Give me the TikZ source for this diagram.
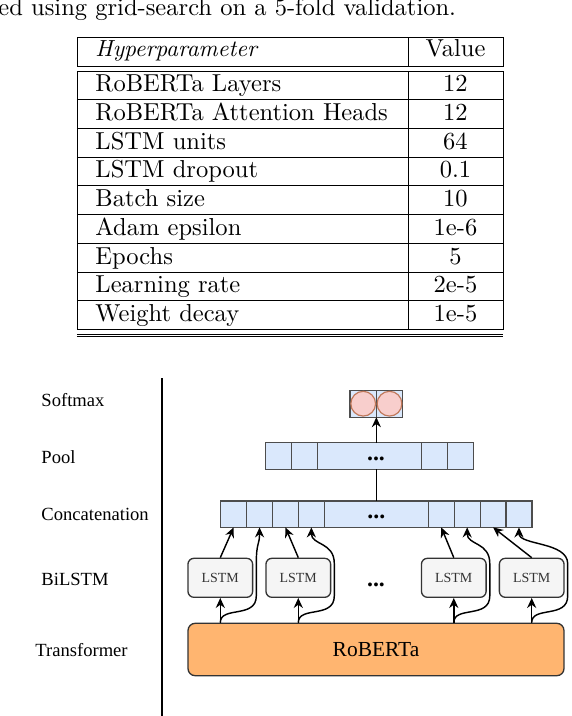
\documentclass[tikz,border=0pt]{standalone}
\usepackage{fontspec}
\newfontfamily\drawfont{Liberation Serif}
\usetikzlibrary{positioning,arrows.meta,calc}
\definecolor{cellblue}{HTML}{DAE8FC}
\definecolor{cellline}{HTML}{4D4D4D}
\definecolor{smfill}{HTML}{F8CECC}
\definecolor{smline}{HTML}{C0785A}
\definecolor{lstmfill}{HTML}{F5F5F5}
\definecolor{lstmline}{HTML}{333333}
\definecolor{robfill}{HTML}{FFB570}
\tikzset{
  vcell/.style={draw=cellline, fill=cellblue, line width=0.5pt, minimum width=10.88pt, minimum height=11.13pt, inner sep=0pt, outer sep=0pt},
  widecell/.style={vcell, minimum width=43.68pt},
  smcell/.style={vcell, minimum width=11.05pt, minimum height=11.34pt},
  smcirc/.style={circle, draw=smline, fill=smfill, line width=0.5pt, minimum size=10.4pt, inner sep=0pt},
  lstmbox/.style={draw=lstmline, fill=lstmfill, rounded corners=2.5pt, line width=0.55pt, minimum width=27.17pt, minimum height=16.38pt, inner sep=0pt, text=lstmline, font=\drawfont\fontsize{5.85}{7}\selectfont},
  robbox/.style={draw=lstmline, fill=robfill, rounded corners=3pt, line width=0.55pt, minimum width=157.9pt, minimum height=22pt, font=\drawfont\fontsize{9}{11}\selectfont},
  lbl/.style={font=\drawfont\fontsize{7.8}{9}\selectfont, inner sep=0pt, anchor=west},
  gap/.style={font=\drawfont\bfseries\fontsize{10}{12}\selectfont, inner sep=0pt, anchor=base},
  arr/.style={line width=0.6pt, -{Stealth[length=4.2pt,width=3.8pt]}},
  tabtext/.style={inner sep=0pt, anchor=base west, font=\fontsize{10.3}{12}\selectfont},
  tabval/.style={inner sep=0pt, anchor=base, font=\fontsize{10.3}{12}\selectfont},
}
\begin{document}
\begin{tikzpicture}[x=0.42pt,y=-0.42pt]
\useasboundingbox (0,0) rectangle (572,716);
% caption line, cut at the top
\node[tabtext] (caption) at (-2,15) {ed using grid-search on a 5-fold validation.};
% hyperparameter table
\draw (77,37) rectangle (503,66);
\draw (408,37) -- (408,66);
\node[tabtext, font=\fontsize{9.8}{12}\selectfont] (hphead) at (95,56.7) {\textit{Hyperparameter}};
\node[tabval] (valhead) at (455.5,56.7) {Value};
\draw (77,71) rectangle (503,329.5);
\draw (408,71) -- (408,329.5);
\foreach \k in {1,...,8}
  \draw (77,{71+\k*28.72}) -- (503,{71+\k*28.72});
\foreach \hp/\val [count=\k] in {RoBERTa Layers/12, RoBERTa Attention Heads/12, LSTM units/64, LSTM dropout/0.1, Batch size/10, Adam epsilon/1e-6, Epochs/5, Learning rate/2e-5, Weight decay/1e-5} {
  \node[tabtext] (hp\k) at (95,{62.98+\k*28.72}) {\hp};
  \node[tabval] (val\k) at (455.5,{62.98+\k*28.72}) {\val};
}
\draw (77,334.3) -- (503,334.3);
\draw (77,336.8) -- (503,336.8);

% layer names
\draw[line width=0.55pt] (162,378) -- (162,716);
\node[lbl] (lsoft) at (41,400.5) {Softmax};
\node[lbl] (lpool) at (41,457) {Pool};
\node[lbl] (lconc) at (41,514) {Concatenation};
\node[lbl] (lbil) at (41,579) {BiLSTM};
\node[lbl] (ltrans) at (35,650) {Transformer};

% softmax
\node[smcell] (s1) at (363.2,403.7) {};
\node[smcell, right=0pt of s1] (s2) {};
\node[smcirc] (o1) at (s1) {};
\node[smcirc] (o2) at (s2) {};

% pool
\node[vcell] (p1) at (278.65,456) {};
\node[vcell, right=0pt of p1] (p2) {};
\node[widecell, right=0pt of p2] (p3) {};
\node[vcell, right=0pt of p3] (p4) {};
\node[vcell, right=0pt of p4] (p5) {};
\node[gap] (pdots) at (376,460.3) {...};

% concatenation
\node[vcell] (c1) at (233.65,514.15) {};
\node[vcell, right=0pt of c1] (c2) {};
\node[vcell, right=0pt of c2] (c3) {};
\node[vcell, right=0pt of c3] (c4) {};
\node[widecell, right=0pt of c4] (cmid) {};
\node[vcell, right=0pt of cmid] (c5) {};
\node[vcell, right=0pt of c5] (c6) {};
\node[vcell, right=0pt of c6] (c7) {};
\node[vcell, right=0pt of c7] (c8) {};
\node[gap] (cdots) at (376.3,518.7) {...};

% bilstm
\node[lstmbox] (lstm1) at (220.3,577.8) {LSTM};
\node[lstmbox] (lstm2) at (298.3,577.8) {LSTM};
\node[gap] (ldots) at (376,586) {...};
\node[lstmbox] (lstm3) at (453.8,577.8) {LSTM};
\node[lstmbox] (lstm4) at (531.7,577.8) {LSTM};

% transformer
\node[robbox] (roberta) at (376,649.5) {RoBERTa};

% connections
\draw[arr] (s1.east |- p3.north) -- (s1.south east);
\draw[line width=0.6pt] (cmid.north) -- (cmid.north |- p3.south);
\foreach \i/\a/\b in {1/1/2, 2/3/4, 3/5/6, 4/7/8} {
  \draw[arr] (lstm\i.south |- roberta.north) -- (lstm\i.south);
  \draw[arr] (lstm\i.north) -- (c\a.south);
  \draw[arr] (lstm\i.south |- roberta.north) .. controls +(0,-17) and ($(lstm\i.south east)+(3,21)$) .. ($(lstm\i.south east)+(3,-2)$)
    -- ($(lstm\i.north east)+(3,6)$) .. controls +(0,-22) and ($(c\b.south)+(0,18)$) .. (c\b.south);
}
\end{tikzpicture}
\end{document}
